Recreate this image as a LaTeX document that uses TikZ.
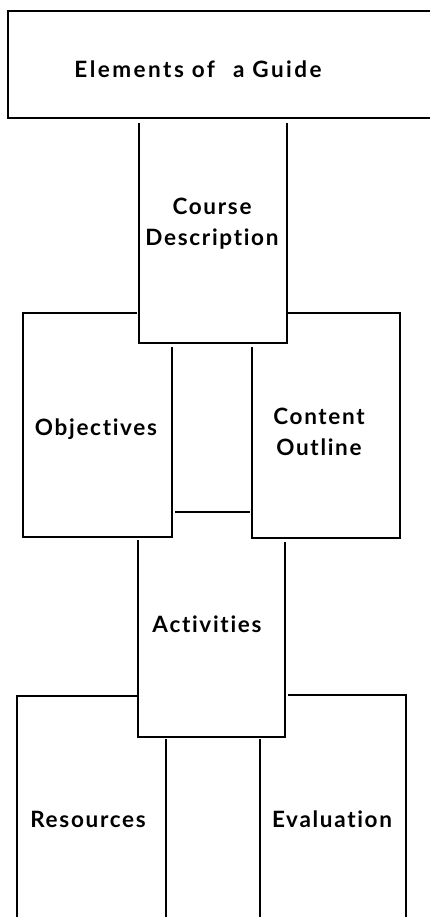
\documentclass[tikz,border=0pt]{standalone}
\usepackage{fontspec}
\setmainfont{Lato}[BoldFont={* Bold}]
\newfontfamily\labelfont{Lato Bold}[LetterSpace=7.5, Ligatures=NoCommon]
\newfontfamily\titlefont{Lato Bold}[LetterSpace=11, Ligatures=NoCommon]
\begin{document}
\begin{tikzpicture}[x=1pt,y=-1pt,
  box/.style={line width=1.7pt, line join=miter, line cap=rect},
  lbl/.style={font=\labelfont\fontsize{22.5}{30.5}\selectfont, align=center, inner sep=0pt, anchor=base},
  ttl/.style={lbl, font=\titlefont\fontsize{22.5}{30.5}\selectfont}]
\useasboundingbox (0,0) rectangle (430,917);
\clip (0,0) rectangle (430,917);
% top box (runs off the right edge)
\draw[box, line width=2.4pt] (440,11) -- (8,11) -- (8,118) -- (440,118);
\node[ttl] (title) at (198,78) {Elements of\hspace{0.8em}a Guide};
% Course Description
\draw[box] (139,124) -- (139,343) -- (287,343) -- (287,124);
\node[lbl] (course) at (212,245) {Course\\Description};
% Objectives
\draw[box] (136,313) -- (23,313) -- (23,537) -- (172,537) -- (172,348);
\node[lbl] (obj) at (96,435) {Objectives};
% Content Outline
\draw[box] (289,313) -- (400,313) -- (400,538) -- (252,538) -- (252,348);
\node[lbl] (content) at (319,455) {Content\\Outline};
% link between Objectives and Content Outline
\coordinate (linkL) at (176,512);
\coordinate (linkR) at (249,512);
\draw[box] (linkL) -- (linkR);
% Activities
\draw[box] (138,541) -- (138,737) -- (285,737) -- (285,543);
\node[lbl] (act) at (207,632) {Activities};
% Resources
\draw[box] (137,696) -- (17,696) -- (17,925);
\draw[box] (166,740) -- (166,925);
\node[lbl] (res) at (88,827) {Resources};
% Evaluation
\draw[box] (289,695) -- (406,695) -- (406,925);
\draw[box] (260,740) -- (260,925);
\node[lbl] (eval) at (332,827) {Evaluation};
\end{tikzpicture}
\end{document}
